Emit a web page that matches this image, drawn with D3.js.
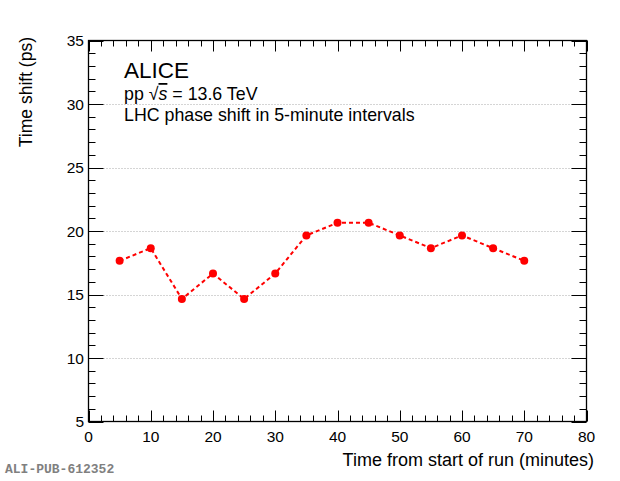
<!DOCTYPE html>
<html lang="en">
<head>
  <meta charset="UTF-8">
  <title>LHC phase shift</title>
  <script src="https://d3js.org/d3.v7.min.js"></script>
  <style>
    body { margin: 0; padding: 0; background: #fff; }
    svg { display: block; font-family: "Liberation Sans", Arial, sans-serif; }
    .grid line { stroke: #aaa; stroke-width: 1; stroke-dasharray: 1,2; }
  </style>
</head>
<body>
  <div id="chart"></div>
  <script>
    const minutes = [5, 10, 15, 20, 25, 30, 35, 40, 45, 50, 55, 60, 65, 70];
    const shiftPs = [17.65, 18.65, 14.65, 16.65, 14.65, 16.65, 19.65, 20.65, 20.65, 19.65, 18.65, 19.65, 18.65, 17.65];
    const xTicks = [0, 10, 20, 30, 40, 50, 60, 70, 80];
    const yTicks = [5, 10, 15, 20, 25, 30, 35];
    const gridValues = [10, 15, 20, 25, 30];

    const width = 620, height = 481;
    const padLeft = 88.5, padRight = 586.5, padTop = 40.5, padBottom = 421.5;

    const x = d3.scaleLinear().domain([0, 80]).range([padLeft, padRight]);
    const y = d3.scaleLinear().domain([5, 35]).range([padBottom, padTop]);

    const svg = d3.select("#chart").append("svg")
      .attr("width", width).attr("height", height);

    // dotted grid at major y values
    svg.append("g").attr("class", "grid")
      .selectAll("line").data(gridValues).join("line")
      .attr("x1", padLeft).attr("x2", padRight)
      .attr("y1", d => Math.round(y(d)) + 0.5).attr("y2", d => Math.round(y(d)) + 0.5);

    // axes, ROOT style: ticks on all four sides
    const xMinor = d3.range(0, 81, 2);
    const yMinor = d3.range(5, 36, 1);

    const ax = svg.append("g").attr("stroke", "#000").attr("stroke-width", 1);
    xMinor.forEach(v => {
      const len = v % 10 === 0 ? 11 : 6;
      const px = Math.round(x(v)) + 0.5;
      ax.append("line").attr("x1", px).attr("x2", px).attr("y1", padBottom).attr("y2", padBottom - len);
      ax.append("line").attr("x1", px).attr("x2", px).attr("y1", padTop).attr("y2", padTop + len);
    });
    yMinor.forEach(v => {
      const len = v % 5 === 0 ? 15 : 7;
      const py = Math.round(y(v)) + 0.5;
      ax.append("line").attr("y1", py).attr("y2", py).attr("x1", padLeft).attr("x2", padLeft + len);
      ax.append("line").attr("y1", py).attr("y2", py).attr("x1", padRight).attr("x2", padRight - len);
    });
    svg.append("rect")
      .attr("x", padLeft).attr("y", padTop)
      .attr("width", padRight - padLeft).attr("height", padBottom - padTop)
      .attr("fill", "none").attr("stroke", "#000").attr("stroke-width", 1.3);

    // tick labels
    svg.append("g").selectAll("text").data(xTicks).join("text")
      .attr("x", d => x(d)).attr("y", 442)
      .attr("text-anchor", "middle").attr("font-size", 15.5)
      .text(d => d);
    svg.append("g").selectAll("text").data(yTicks).join("text")
      .attr("x", 84).attr("y", d => y(d) + 5.5)
      .attr("text-anchor", "end").attr("font-size", 15.5)
      .text(d => d);

    // axis titles
    svg.append("text")
      .attr("x", 594).attr("y", 466)
      .attr("text-anchor", "end").attr("font-size", 18)
      .text("Time from start of run (minutes)");
    svg.append("text")
      .attr("transform", "translate(32,37) rotate(-90)")
      .attr("text-anchor", "end").attr("font-size", 17.5)
      .text("Time shift (ps)");

    // data line and markers
    const pts = minutes.map((m, i) => [m, shiftPs[i]]);
    svg.append("path")
      .datum(pts)
      .attr("fill", "none").attr("stroke", "#ff0000")
      .attr("stroke-width", 2).attr("stroke-dasharray", "4,3")
      .attr("d", d3.line().x(d => x(d[0])).y(d => y(d[1])));
    svg.append("g").selectAll("circle").data(pts).join("circle")
      .attr("cx", d => x(d[0])).attr("cy", d => y(d[1]))
      .attr("r", 4).attr("fill", "#ff0000");

    // labels
    svg.append("text").attr("x", 124).attr("y", 78)
      .attr("font-size", 22.5).text("ALICE");
    const pp = svg.append("text").attr("x", 124).attr("y", 100).attr("font-size", 17.8);
    pp.append("tspan").text("pp \u221A");
    pp.append("tspan").attr("font-style", "italic").attr("text-decoration", "overline").text("s");
    pp.append("tspan").text(" = 13.6 TeV");
    svg.append("text").attr("x", 124).attr("y", 121)
      .attr("font-size", 17.8).text("LHC phase shift in 5-minute intervals");

    svg.append("text").attr("x", 5).attr("y", 473)
      .attr("font-family", "'Liberation Mono', 'DejaVu Sans Mono', monospace")
      .attr("font-weight", "bold").attr("font-size", 13).attr("fill", "#808080")
      .text("ALI-PUB-612352");
  </script>
</body>
</html>
